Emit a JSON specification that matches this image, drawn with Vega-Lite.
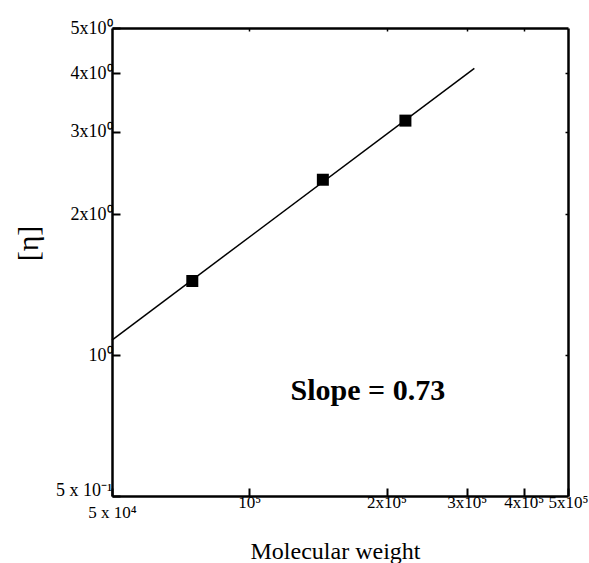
{
  "$schema": "https://vega.github.io/schema/vega-lite/v6.json",
  "width": 456,
  "height": 468,
  "autosize": "none",
  "padding": {"left": 112, "top": 28, "right": 21, "bottom": 67},
  "background": "white",
  "config": {
    "view": {"stroke": null},
    "font": "Liberation Serif",
    "axis": {
      "domainColor": "black",
      "domainWidth": 2.5,
      "tickColor": "black",
      "grid": false,
      "labelColor": "black",
      "titleColor": "black",
      "labelFont": "Liberation Serif",
      "titleFont": "Liberation Serif",
      "titleFontWeight": "normal"
    }
  },
  "datasets": {
    "points": [
      {"mw": 75000, "eta": 1.44},
      {"mw": 145000, "eta": 2.37},
      {"mw": 220000, "eta": 3.17}
    ],
    "fit": [
      {"mw": 50000, "eta": 1.077},
      {"mw": 311600, "eta": 4.10}
    ],
    "label": [
      {"mw": 182000, "eta": 0.802, "t": "Slope = 0.73"}
    ]
  },
  "layer": [
    {
      "data": {"name": "fit"},
      "mark": {"type": "line", "color": "black", "strokeWidth": 1.5},
      "encoding": {
        "x": {
          "field": "mw", "type": "quantitative",
          "scale": {"type": "log", "domain": [50000, 500000], "nice": false},
          "axis": {
            "orient": "bottom",
            "values": [50000, 100000, 200000, 300000, 400000, 500000],
            "labelExpr": "datum.value < 60000 ? '5 x 10⁴' : datum.value < 150000 ? '10⁵' : datum.value < 250000 ? '2x10⁵' : datum.value < 350000 ? '3x10⁵' : datum.value < 450000 ? '4x10⁵' : '5x10⁵'",
            "labelFontSize": 17,
            "labelPadding": {"condition": {"test": "datum.value < 60000", "value": 16}, "value": 6},
            "labelFlush": false,
            "labelOverlap": false,
            "tickSize": -8,
            "tickWidth": 2,
            "title": "Molecular weight",
            "titleFontSize": 24,
            "titleBaseline": "alphabetic",
            "titleAlign": "center",
            "titleX": 223,
            "titleY": 62
          }
        },
        "y": {
          "field": "eta", "type": "quantitative",
          "scale": {"type": "log", "domain": [0.5, 5], "nice": false},
          "axis": {
            "orient": "left",
            "values": [0.5, 1, 2, 3, 4, 5],
            "labelExpr": "datum.value < 0.6 ? '5 x 10⁻¹' : datum.value < 1.5 ? '10⁰' : datum.value < 2.5 ? '2x10⁰' : datum.value < 3.5 ? '3x10⁰' : datum.value < 4.5 ? '4x10⁰' : '5x10⁰'",
            "labelFontSize": 18,
            "labelPadding": 8,
            "labelOffset": {"condition": {"test": "datum.value < 0.6", "value": -6}, "value": 0},
            "labelFlush": false,
            "labelOverlap": false,
            "tickSize": -8,
            "tickWidth": 2,
            "title": "[η]",
            "titleFontSize": 30,
            "titleAngle": -90,
            "titleAlign": "center",
            "titleBaseline": "middle",
            "titleX": -84,
            "titleY": 215
          }
        }
      }
    },
    {
      "data": {"name": "points"},
      "mark": {"type": "point", "shape": "square", "filled": true, "size": 144, "color": "black", "opacity": 1},
      "encoding": {
        "x": {
          "field": "mw", "type": "quantitative",
          "scale": {"type": "log", "domain": [50000, 500000], "nice": false},
          "axis": {"orient": "top", "values": [100000, 200000, 300000, 400000], "labels": false, "title": null, "tickSize": -3, "tickWidth": 1.5}
        },
        "y": {
          "field": "eta", "type": "quantitative",
          "scale": {"type": "log", "domain": [0.5, 5], "nice": false},
          "axis": {"orient": "right", "values": [1, 2, 3, 4], "labels": false, "title": null, "tickSize": -3, "tickWidth": 1.5}
        }
      }
    },
    {
      "data": {"name": "label"},
      "mark": {"type": "text", "fontSize": 30, "fontWeight": "bold", "font": "Liberation Serif", "align": "center", "baseline": "alphabetic", "color": "black"},
      "encoding": {
        "x": {"field": "mw", "type": "quantitative", "scale": {"type": "log", "domain": [50000, 500000], "nice": false}, "axis": null},
        "y": {"field": "eta", "type": "quantitative", "scale": {"type": "log", "domain": [0.5, 5], "nice": false}, "axis": null},
        "text": {"field": "t"}
      }
    }
  ],
  "resolve": {"axis": {"x": "independent", "y": "independent"}}
}
